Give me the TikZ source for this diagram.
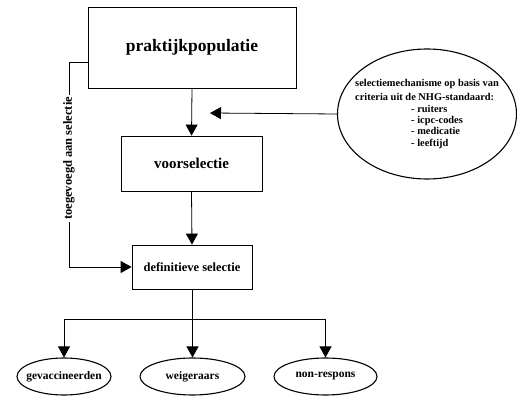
\documentclass[tikz,border=0pt]{standalone}
\usepackage{fontspec}
\setmainfont{Liberation Serif}
\usetikzlibrary{shapes.geometric,arrows.meta}
\tikzset{
  blok/.style={draw,line width=0.8pt,inner sep=0pt},
  ovaal/.style={draw,ellipse,line width=1.1pt,inner ysep=0pt,inner xsep=-8pt,minimum height=37pt,
    font=\bfseries\fontsize{11.5}{13}\selectfont},
  pijl/.style={-{Triangle[width=12pt,length=11pt]}},
}
\begin{document}
\begin{tikzpicture}[x=1pt,y=-1pt,line width=0.8pt]
  \useasboundingbox (0,0) rectangle (517,403);
  % boxes
  \node[blok,minimum width=208pt,minimum height=81pt,font=\bfseries\fontsize{17.5}{20}\selectfont]
    (pp) at (192,47.5) {praktijkpopulatie};
  \node[blok,minimum width=141pt,minimum height=55pt,font=\bfseries\fontsize{15}{17}\selectfont]
    (vs) at (191.5,163.5) {voorselectie};
  \node[blok,minimum width=120pt,minimum height=44pt,font=\bfseries\fontsize{12.5}{14}\selectfont]
    (ds) at (192,267) {definitieve selectie};
  \node[draw,ellipse,line width=1.1pt,inner xsep=-25pt,inner ysep=-14pt,minimum width=179pt,minimum height=130pt,
    align=left,font=\bfseries\fontsize{10.4}{11.4}\selectfont] (crit) at (427,114)
    {selectiemechanisme op basis van\\[2.6pt]
     criteria uit de NHG-standaard:\\
     \hspace*{56pt}- ruiters\\
     \hspace*{56pt}- icpc-codes\\
     \hspace*{56pt}- medicatie\\
     \hspace*{56pt}- leeftijd};
  % outcomes
  \node[ovaal,minimum width=94pt] (gv) at (64,376.5) {gevaccineerden};
  \node[ovaal,minimum width=105pt] (wg) at (192.5,376.5) {weigeraars};
  \node[ovaal,minimum width=103pt] (nr) at (325.5,376.5) {non-respons};
  % connectors
  \coordinate (hit) at (210,113);
  \coordinate (lt) at (69,62);
  \coordinate (lb) at (69,267);
  \coordinate (split) at (192,319);
  \draw[pijl] (pp.south) -- (vs.north);
  \draw[pijl] (vs.south) -- (ds.north);
  \draw[pijl] (crit.west) -- (hit);
  \draw ([yshift=-14.5pt]pp.west) -- (lt);
  \draw[pijl] (lt) -- node[pos=0.47,rotate=90,fill=white,inner sep=2pt,font=\bfseries\fontsize{12.5}{14}\selectfont]
    {toegevoegd aan selectie} (lb) -- (ds.west);
  \draw (ds.south) -- (split);
  \draw (split -| gv.north) -- (split -| nr.north);
  \foreach \n in {gv,wg,nr}
    \draw[pijl] (split -| \n.north) -- (\n.north);
\end{tikzpicture}
\end{document}
